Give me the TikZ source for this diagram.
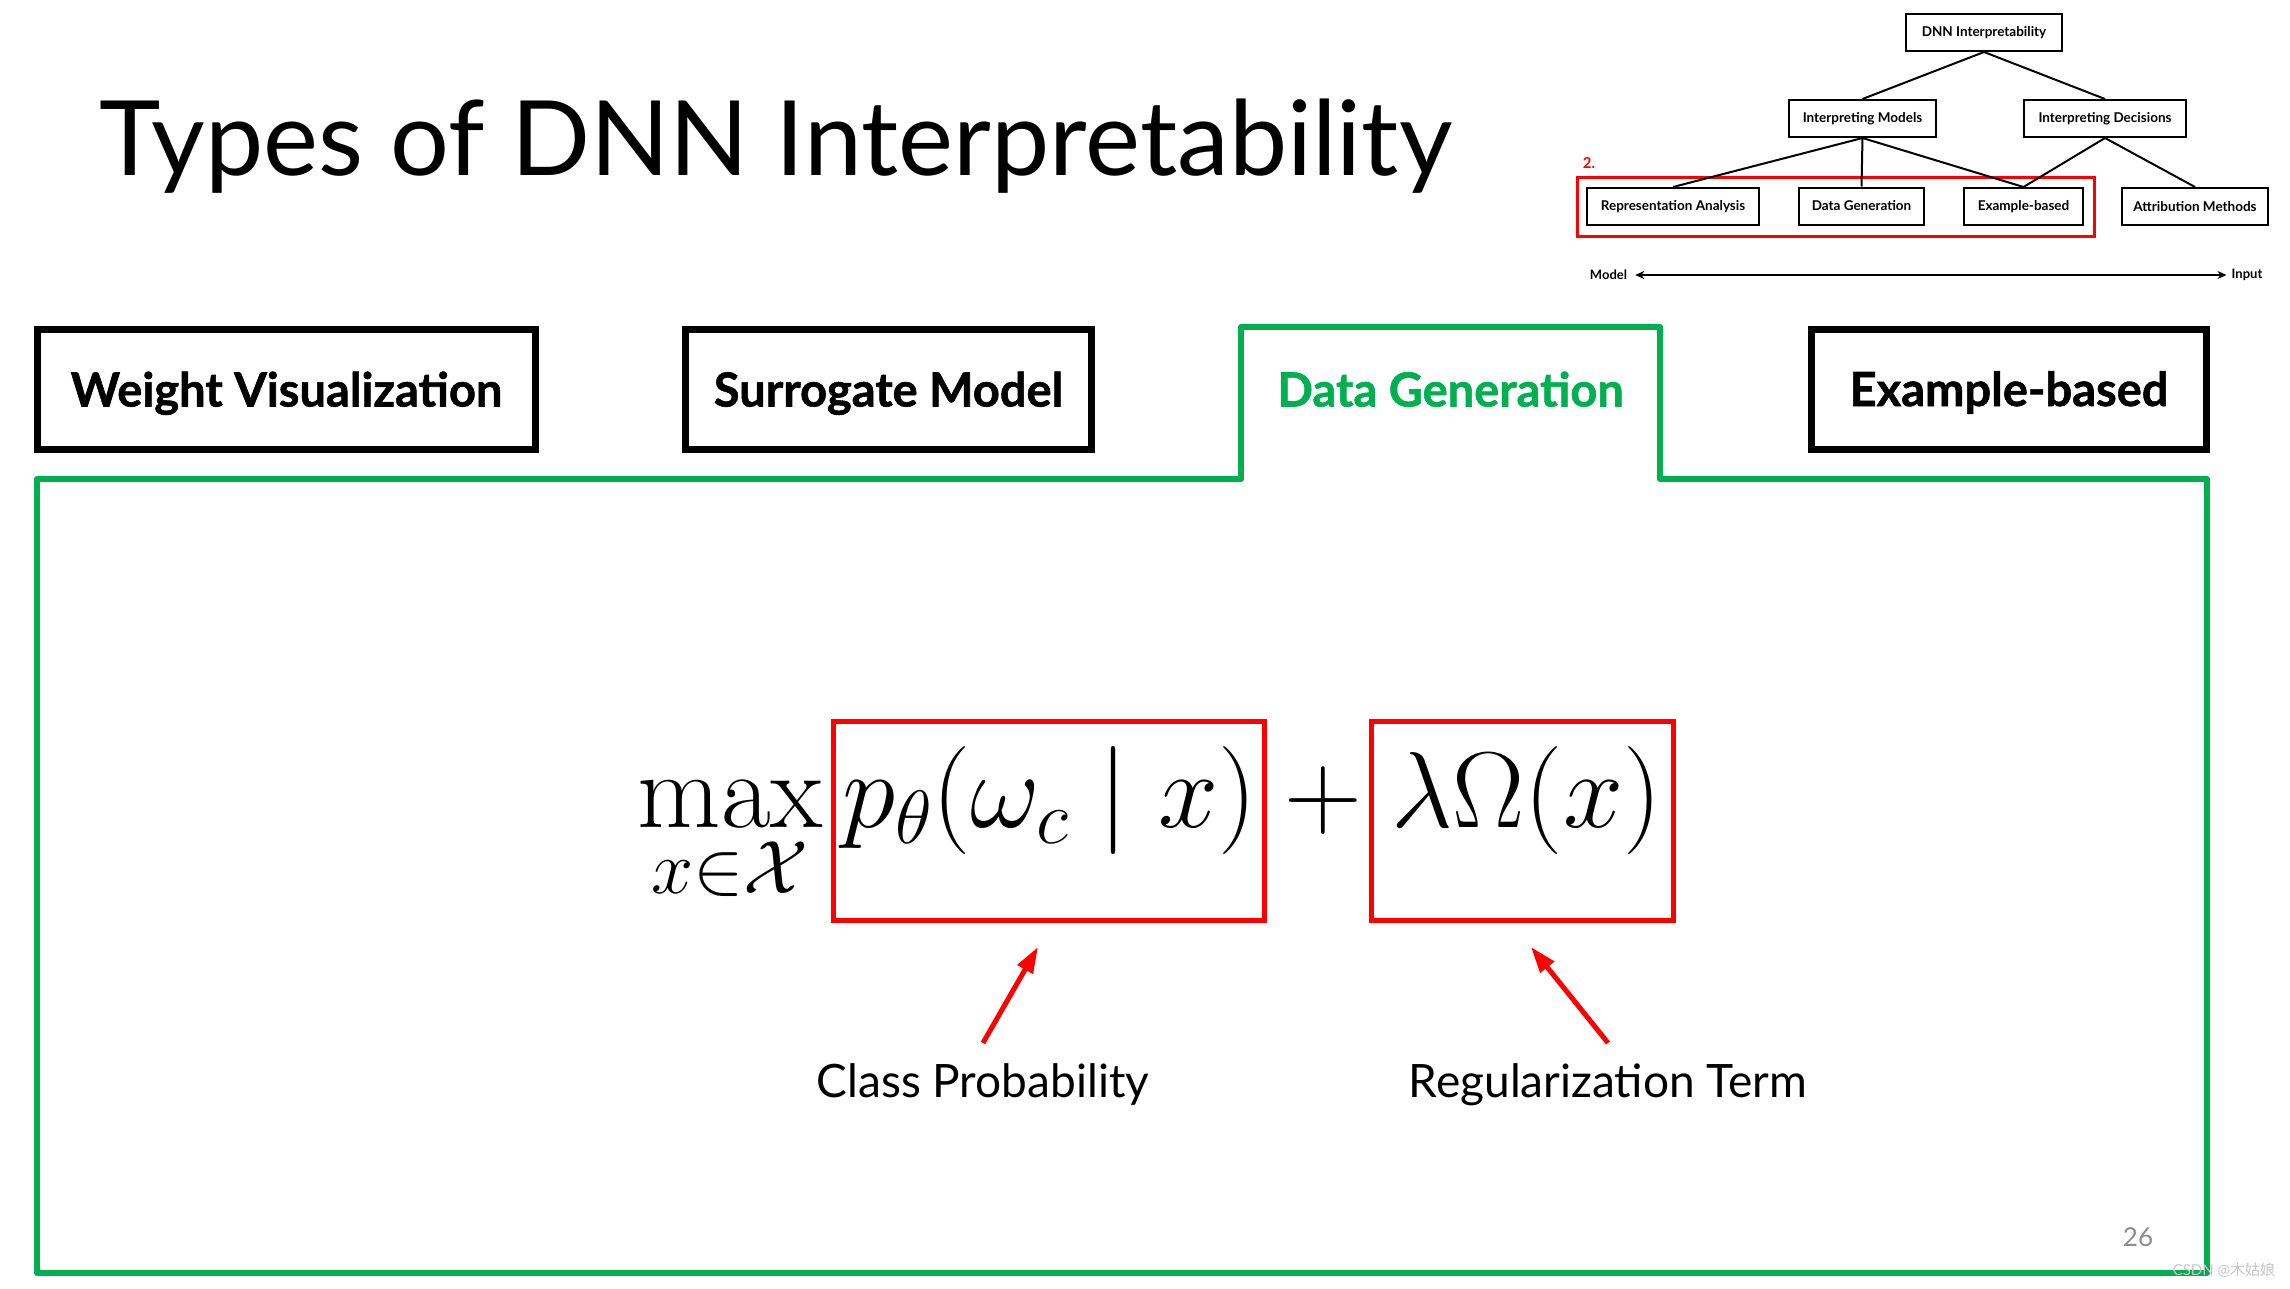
\RequirePackage{fix-cm}
\documentclass[tikz,border=0pt]{standalone}
\usepackage[no-math]{fontspec}
\setmainfont{Lato}
\newfontfamily\tabfont[FakeBold=1.2]{Lato}
\newfontfamily\cjkfont{Noto Sans CJK SC}
\usetikzlibrary{arrows.meta}
\definecolor{dgreen}{HTML}{00B050}
\definecolor{pgray}{HTML}{8C8C8C}
\begin{document}
\begin{tikzpicture}[x=1pt,y=-1pt,
  tab/.style={draw=black, line width=7pt, font=\tabfont\fontsize{47}{52}\selectfont\bfseries, text height=34pt, text depth=0pt, minimum height=120pt, inner sep=0pt},
  tnode/.style={draw=black, line width=2pt, font=\fontsize{13.5}{15}\selectfont\bfseries, minimum height=37pt, inner sep=0pt},
  tedge/.style={line width=2pt},
  redbox/.style={draw=red, line width=5pt, minimum height=199pt, inner sep=0pt},
  redarr/.style={draw=red, line width=5pt, -{Triangle[length=26pt,width=17pt]}},
  lbl/.style={font=\fontsize{46}{52}\selectfont, inner sep=0pt, anchor=base},
  fml/.style={inner sep=0pt, font=\fontsize{108}{118}\selectfont},
  small/.style={font=\fontsize{13}{14}\selectfont\bfseries, inner sep=0pt},
]
\useasboundingbox[fill=white] (0,0) rectangle (2290,1288);

% title
\node[anchor=base west, inner sep=0pt, font=\fontsize{104}{110}\selectfont] (title) at (99,175) {Types of DNN Interpretability};

% tree (top right)
\node[draw=red, line width=3pt, minimum width=517pt, minimum height=59pt, inner sep=0pt] (sel) at (1836,207) {};
\node[text=red, font=\fontsize{15}{16}\selectfont\bfseries, inner sep=0pt] (two) at (1589,163) {2.};
\node[tnode, minimum width=156pt] (t0) at (1984,32.5) {DNN Interpretability};
\node[tnode, minimum width=147pt] (t1) at (1862.5,118.5) {Interpreting Models};
\node[tnode, minimum width=162pt] (t2) at (2105,118.5) {Interpreting Decisions};
\node[tnode, minimum width=172pt] (t3) at (1673,206.5) {Representation Analysis};
\node[tnode, minimum width=125pt] (t4) at (1861.5,206) {Data Generation};
\node[tnode, minimum width=119pt] (t5) at (2023.5,206.5) {Example-based};
\node[tnode, minimum width=146pt] (t6) at (2195,206.5) {Attribution Methods};
\draw[tedge] (t0.south) -- (t1.north);
\draw[tedge] (t0.south) -- (t2.north);
\draw[tedge] (t1.south) -- (t3.north);
\draw[tedge] (t1.south) -- (t4.north);
\draw[tedge] (t1.south) -- (t5.north);
\draw[tedge] (t2.south) -- (t5.north);
\draw[tedge] (t2.south) -- (t6.north);
\node[small] (mdl) at (1608.5,275) {Model};
\node[small] (inp) at (2247,275) {Input};
\draw[line width=2pt, {Stealth[length=9pt,width=8pt]}-{Stealth[length=9pt,width=8pt]}, shorten <=8pt, shorten >=5pt] (mdl.east) -- (mdl.east -| inp.west);

% tabs
\node[tab, minimum width=498pt] (wv) at (286.5,389.5) {Weight Visualization};
\node[tab, minimum width=406pt] (sm) at (888.5,389.5) {Surrogate Model};
\node[tab, draw=none, text=dgreen, minimum width=418pt] (dg) at (1450.5,389.5) {Data Generation};
\node[tab, minimum width=395pt] (eb) at (2009,389) {Example-based};

% green panel
\draw[dgreen, line width=6pt, line join=round] (37,1273) -- (37,479) -- (1241,479) -- (1241,327) -- (1660,327) -- (1660,479) -- (2207,479) -- (2207,1273) -- cycle;

% formula
\node[fml, anchor=base west] (mx) at (637,827) {$\max$};
\node[fml, anchor=base] (sub) at ([yshift=-66pt]mx.base) {$\scriptstyle x\in\mathcal{X}$};
\node[fml, anchor=base west] (pt) at (842,827) {$p_\theta(\omega_c\mid x)$};
\node[fml, anchor=base] (pl) at (1323,827) {$+$};
\node[fml, anchor=base west] (lo) at (1391,827) {$\lambda\Omega(x)$};
\node[redbox, minimum width=431pt] (b1) at (1049,821) {};
\node[redbox, minimum width=302pt] (b2) at (1522.5,821) {};
\coordinate (tip1) at (1038,947);
\coordinate (tip2) at (1531,947);
\node[lbl] (cp) at (983,1097) {Class Probability};
\node[lbl] (rt) at (1608,1097) {Regularization Term};
\draw[redarr] ([yshift=20pt]cp.north) -- (tip1);
\draw[redarr] ([yshift=20pt]rt.north) -- (tip2);

% page number and watermark
\node[text=pgray, font=\fontsize{26}{28}\selectfont] (pg) at (2138,1237) {26};
\node[text=gray!45, font=\fontsize{15}{16}\selectfont, inner sep=0pt] (wm) at (2224,1270) {CSDN @{\cjkfont 木姑娘}};
\end{tikzpicture}
\end{document}
